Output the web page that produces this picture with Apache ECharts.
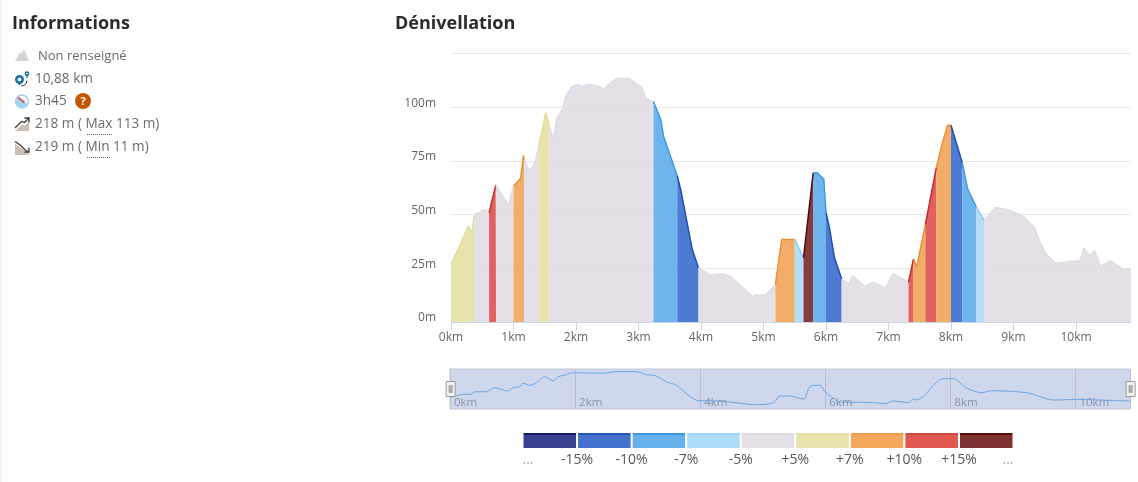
<!DOCTYPE html>
<html><head><meta charset="utf-8">
<style>html,body{margin:0;padding:0;background:#fff}#c{width:1138px;height:482px}</style>
<script src="https://cdn.jsdelivr.net/npm/echarts@6/dist/echarts.min.js"></script>
</head><body><div id="c"></div>
<script>
const distanceKm = [0,0.277,0.34,0.37,0.534,0.61,0.715,0.72,0.92,1.0,1.115,1.158,1.17,1.256,1.35,1.40,1.515,1.575,1.64,1.69,1.78,1.85,1.93,2.04,2.08,2.21,2.385,2.44,2.545,2.66,2.84,3.05,3.12,3.24,3.355,3.40,3.62,3.675,3.86,3.96,4.155,4.235,4.37,4.47,4.66,4.83,4.87,5.03,5.19,5.29,5.50,5.64,5.67,5.795,5.86,5.965,6.0,6.055,6.135,6.25,6.365,6.425,6.62,6.75,6.95,7.075,7.32,7.40,7.45,7.59,7.765,7.855,7.945,8.0,8.18,8.267,8.405,8.533,8.71,8.92,9.16,9.33,9.43,9.52,9.67,10.06,10.13,10.22,10.30,10.39,10.55,10.75,10.88];
const elevationM = [26.7,44.6,41.8,49.6,52.4,51,63.6,63.3,54.4,63.3,66.9,77.6,75.5,70.3,74.5,81.2,97.5,91,85,94.4,99,106,109.5,110.6,109.6,110.6,109.5,108.5,111.2,113.4,113.4,109.3,104,102.5,94.4,86.6,68,61.7,33.7,25.2,21.6,22.4,22.4,21.2,16.3,11.7,12.4,12.4,17.4,38.4,38.4,29.9,30.3,69.5,69.5,66.4,50.9,43.9,29.9,20,17.7,21.5,16.5,18.5,15.9,22.5,18.5,29.4,25.5,45.4,71.9,82.7,91.6,91.6,74.2,61.9,53.5,47.3,53.3,52.3,49.1,44.2,36.7,31.7,27.4,28.5,34.4,30.8,33.3,25.8,28.5,24.7,24.3];
const overviewKm = [0,0.208,0.34,0.395,0.58,0.715,0.93,1.01,1.115,1.18,1.275,1.38,1.515,1.65,1.73,1.835,1.97,2.45,2.66,2.98,3.14,3.27,3.46,3.62,3.83,3.97,4.26,4.63,4.85,5.09,5.19,5.27,5.435,5.65,5.765,5.915,6,6.1,6.235,6.45,6.77,6.955,7.09,7.33,7.41,7.46,7.89,8.05,8.24,8.5,8.66,9.22,9.43,9.65,10.02,10.55,10.87];
const overviewM = [35.4,45.8,45.8,54,54,66.7,56,66.7,70,80,74,82,101,87.5,101,106,113.6,111.5,116.7,116.7,107,105,85,74,40.6,26,25,18.7,13.5,15.6,21.9,40.6,40.6,31,72,74,53,37.5,22,21,20,16.7,25,20,32,28,95,95,67,51,57,51,38.6,28,30,27,25];
const bandEndKm = [0.37,0.61,0.72,1.0,1.17,1.40,1.575,3.24,3.62,3.96,5.19,5.50,5.64,5.795,6.0,6.25,7.32,7.40,7.59,7.765,8.0,8.18,8.405,8.533,10.88];
const bandClass = [5,4,7,4,6,4,5,4,2,1,4,6,3,8,2,1,4,7,6,7,6,1,2,3,4];
const classFill = ['rgb(50,55,135)','rgb(46,100,201)','rgb(83,168,233)','rgb(169,216,248)','rgb(225,219,228)','rgb(228,222,156)','rgb(240,160,78)','rgb(218,69,66)','rgb(110,26,28)'];
const classLine = ['#131a6b','#1f4fae','#3f9be0','#8ccbf5','#e1dbe4','#e4de9c','#e8923a','#c32d2d','#530810'];
const legendFill = ['#38408f','#4672cf','#66b1ec','#acdcfb','#e5e0e8','#e8e3aa','#f3a85c','#e05850','#7f3030'];
const legendTop = ['#131a6b','#2a55b8','#3f97e0','#a0d5f8','#e0dbe3','#e4dfa0','#ef9d4c','#d04a44','#580a0a'];
const legendTicks = ['...','-15%','-10%','-7%','-5%','+5%','+7%','+10%','+15%','...'];
const legendCells = [1,1,1,1,1,1,1,1,1];
const xTickUnit = 'km', yTickUnit = 'm';
const yHiddenTick = 125;

const points = distanceKm.map((d,i)=>[d,elevationM[i]]);
const bandSeries = bandEndKm.map((end,i)=>{
  const start = i? bandEndKm[i-1]:0, c = bandClass[i];
  return {type:'line',xAxisIndex:0,yAxisIndex:0,symbol:'none',silent:true,
    data:points.filter(p=>p[0]>=start&&p[0]<=end),
    lineStyle:{color:classLine[c],width:1.5},
    areaStyle:{color:classFill[c],opacity:0.85}};
});
const overview = {type:'line',xAxisIndex:1,yAxisIndex:1,symbol:'none',smooth:0.3,silent:true,
  data:overviewKm.map((d,i)=>[d,overviewM[i]]),lineStyle:{color:'#6da6e2',width:1}};
const legendSeries = legendCells.map((v,i)=>({type:'bar',stack:'l',xAxisIndex:2,yAxisIndex:2,barWidth:'100%',silent:true,
  data:[v],
  itemStyle:{borderColor:'#fff',borderWidth:1,color:new echarts.graphic.LinearGradient(0,0,0,1,[
    {offset:0,color:legendTop[i]},{offset:0.15,color:legendTop[i]},{offset:0.15,color:legendFill[i]},{offset:1,color:legendFill[i]}])}
}));

const bodyFont='13.6px "Open Sans"';
const txt = (x,y,text,o={})=>({type:'text',x,y,silent:true,style:Object.assign({text,fill:'#6b6b6b',font:bodyFont,textVerticalAlign:'middle'},o)});
const poly = (pts,fill)=>({type:'polygon',silent:true,shape:{points:pts},style:{fill}});
const pline = (pts,w=1.3)=>({type:'polyline',silent:true,shape:{points:pts},style:{stroke:'#3c3c3c',lineWidth:w,fill:null}});
const seg = (x1,y1,x2,y2,stroke,w=1,dash)=>({type:'line',silent:true,shape:{x1,y1,x2,y2},style:{stroke,lineWidth:w,lineDash:dash||null}});
const icons = [
  {type:'rect',silent:true,shape:{x:0,y:0,width:2,height:482},style:{fill:'#f8f4f5'}},
  poly([[15,61],[20,52],[21.5,54],[24,49],[29,61]],'#d4d4d4'),
  {type:'circle',silent:true,shape:{cx:19.5,cy:79.5,r:3.2},style:{fill:'#fff',stroke:'#1a72a8',lineWidth:2.6}},
  poly([[16.5,81.5],[19.5,85.5],[22.5,81.5]],'#1a72a8'),
  {type:'circle',silent:true,shape:{cx:27,cy:73.5,r:1.6},style:{fill:'#fff',stroke:'#1a72a8',lineWidth:1.5}},
  poly([[25.3,74.5],[27,78.5],[28.7,74.5]],'#1a72a8'),
  {type:'arc',silent:true,shape:{cx:21,cy:80,r:6,startAngle:0.1,endAngle:1.5},style:{stroke:'#333',lineWidth:1,fill:null}},
  {type:'circle',silent:true,shape:{cx:22,cy:101.5,r:7.2},style:{fill:'#a3d3ec'}},
  {type:'sector',silent:true,shape:{cx:22,cy:101.5,r:5.6,r0:0,startAngle:-2.6,endAngle:0.3},style:{fill:'#fff'}},
  seg(18,97.5,24.5,102.5,'#d2555a',2),
  {type:'circle',silent:true,shape:{cx:83,cy:101,r:8},style:{fill:'#c25700'}},
  txt(83,101.5,'?',{fill:'#fff',font:'bold 11px "Open Sans"',textAlign:'center'}),
  poly([[15,131],[22,124.5],[25,125.5],[29,121],[29,131]],'#cbbfb6'),
  pline([[15,128],[21.5,121.5],[24.5,122.5],[29,118]]),
  pline([[24.5,118],[29,118],[29,122.5]]),
  poly([[15,144],[21.5,148],[24.5,151],[29,153.5],[29,155],[15,155]],'#cbbfb6'),
  pline([[15,141.5],[21.5,146],[24.5,149.5],[29,152]]),
  pline([[24.5,152],[29,152],[29,147.5]]),
  seg(87,134.5,112,134.5,'#666',1,[1,1]),
  seg(87,157.5,110,157.5,'#666',1,[1,1])
];
const texts = [
  txt(12,23.5,'Informations',{fill:'#2b2b2b',font:'bold 18px "Open Sans"'}),
  txt(395,23.5,'Dénivellation',{fill:'#2b2b2b',font:'bold 18px "Open Sans"'}),
  txt(38,56,'Non renseigné',{font:'13px "Open Sans"'}),
  txt(35,79,'10,88 km'),
  txt(35,101.5,'3h45'),
  txt(35,124.5,'218 m ( Max 113 m)'),
  txt(35,147.5,'219 m ( Min 11 m)')
];
const chart = echarts.init(document.getElementById('c'),null,{renderer:'canvas'});
chart.setOption({
  animation:false,
  backgroundColor:'#fff',
  grid:[
    {left:451,top:53.5,width:680,height:268.5},
    {left:450,top:369,width:680.5,height:40,show:true,backgroundColor:'#ced7eb',borderColor:'#c6c9cf',borderWidth:1},
    {left:522.5,top:432,width:491,height:17}
  ],
  xAxis:[
    {type:'value',gridIndex:0,min:0,max:10.88,interval:1,
      axisLine:{lineStyle:{color:'#ccd6eb'}},axisTick:{length:8,lineStyle:{color:'#ccd6eb'}},
      splitLine:{show:false},
      axisLabel:{color:'#666',fontFamily:'Open Sans',fontSize:12,margin:10,formatter:v=>v+xTickUnit,showMaxLabel:false}},
    {type:'value',gridIndex:1,min:0,max:10.88,interval:2,
      axisLine:{show:false},axisTick:{show:false},
      splitLine:{show:true,lineStyle:{color:'#b8bfd2'}},
      axisLabel:{inside:true,align:'left',color:'#8a93a8',fontFamily:'Open Sans',fontSize:11.5,margin:0,padding:[0,0,0,4],formatter:v=>v+xTickUnit,showMaxLabel:false}},
    {type:'value',gridIndex:2,min:0,max:9,interval:1,
      axisLine:{show:false},axisTick:{show:false},splitLine:{show:false},
      axisLabel:{alignMinLabel:'left',alignMaxLabel:'right',color:(v)=>(Number(v)===0||Number(v)===9)?'#aaa':'#555',fontFamily:'Open Sans',fontSize:14,margin:4,formatter:(v)=>legendTicks[v]}}
  ],
  yAxis:[
    {type:'value',gridIndex:0,min:0,max:125,interval:25,
      axisLine:{show:false},axisTick:{show:false},
      splitLine:{lineStyle:{color:'#e6e6e6'}},
      axisLabel:{color:'#666',fontFamily:'Open Sans',fontSize:12,margin:15,verticalAlign:'bottom',lineHeight:8,formatter:v=>v===yHiddenTick?'':v+yTickUnit}},
    {type:'value',gridIndex:1,min:0,max:125,axisLine:{show:false},axisTick:{show:false},splitLine:{show:false},axisLabel:{show:false}},
    {type:'category',gridIndex:2,data:['l'],axisLine:{show:false},axisTick:{show:false},axisLabel:{show:false}}
  ],
  dataZoom:[{type:'slider',xAxisIndex:0,filterMode:'none',start:0,end:100,left:448.5,width:682,top:369,height:40,
    showDetail:false,showDataShadow:false,brushSelect:false,moveHandleSize:0,
    backgroundColor:'rgba(0,0,0,0)',borderColor:'rgba(0,0,0,0)',fillerColor:'rgba(0,0,0,0)',
    handleIcon:'path://M0,0H9V15H0ZM3,4V11H4V4ZM5,4V11H6V4Z',handleSize:15,
    handleStyle:{color:'#f2f2f2',borderColor:'#999',borderWidth:1}}],
  series:[...bandSeries,overview,...legendSeries],
  graphic:{elements:[...icons,...texts]}
});
</script></body></html>
